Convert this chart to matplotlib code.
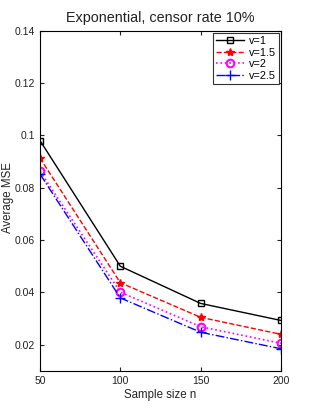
import matplotlib
matplotlib.use('Agg')
import matplotlib.pyplot as plt

plt.rcParams['font.family'] = ['Liberation Sans', 'DejaVu Sans']

sizes = [50, 100, 150, 200]
mse_v1 = [0.098, 0.0500, 0.0358, 0.0293]
mse_v15 = [0.0913, 0.0437, 0.0305, 0.0240]
mse_v2 = [0.0862, 0.0401, 0.0269, 0.0206]
mse_v25 = [0.0852, 0.0379, 0.0248, 0.0185]

fig = plt.figure(figsize=(3.11, 4.18), dpi=100)
ax = fig.add_axes([0.1286, 0.1124, 0.775, 0.8146])

ax.plot(sizes, mse_v1, color='black', linestyle='-', marker='s', markersize=4.5,
        markerfacecolor='none', linewidth=1, label='v=1')
ax.plot(sizes, mse_v15, color='red', linestyle='--', marker='*', markersize=6,
        linewidth=1, label='v=1.5')
ax.plot(sizes, mse_v2, color='magenta', linestyle=':', marker='o', markersize=5.5,
        markerfacecolor='none', markeredgewidth=1.5, linewidth=1.2, label='v=2')
ax.plot(sizes, mse_v25, color='blue', linestyle='-.', marker='+', markersize=7,
        linewidth=1, label='v=2.5')

ax.set_xlim(50, 200)
ax.set_ylim(0.01, 0.14)
ax.set_xticks([50, 100, 150, 200])
ax.set_yticks([0.02, 0.04, 0.06, 0.08, 0.1, 0.12, 0.14])
ax.set_yticklabels(['0.02', '0.04', '0.06', '0.08', '0.1', '0.12', '0.14'])
ax.tick_params(direction='in', top=True, right=True, labelsize=7.5, length=3,
               colors='#222222', labelcolor='#222222')

ax.set_xlabel('Sample size n', fontsize=8.3, labelpad=2, color='#222222')
ax.set_ylabel('Average MSE', fontsize=8.3, color='#222222')
ax.yaxis.set_label_coords(-0.108, 0.51)
ax.set_title('Exponential, censor rate 10%', fontsize=10.4, color='#222222')

leg = ax.legend(loc='upper right', fontsize=7.8, fancybox=False, edgecolor='#333333',
                framealpha=1, handlelength=2.6, borderaxespad=0.2, labelspacing=0.15,
                borderpad=0.3, handletextpad=0.4)
leg.get_frame().set_linewidth(0.8)

fig.savefig('out.png', dpi=100)
